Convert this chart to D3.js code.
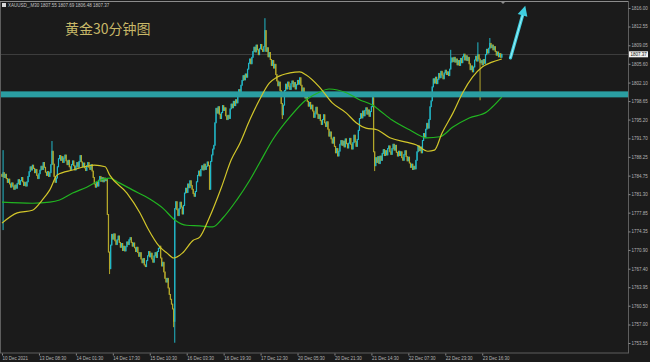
<!DOCTYPE html>
<html>
<head>
  <meta charset="utf-8">
  <title>XAUUSD M30</title>
  <script src="https://d3js.org/d3.v7.min.js"></script>
  <style>
    body { margin: 0; background: #1b1b1b; }
    svg { display: block; background: #1b1b1b; }
    .axis text { fill: #b4b4b4; font: 4.5px "Liberation Sans", sans-serif; }
    .axis line { stroke: #8a8a8a; }
    .title { fill: #c8b868; font: 14px "Noto Sans CJK SC", sans-serif; }
    .hdr { fill: #c4c4c4; font: 4.5px "Liberation Sans", sans-serif; }
  </style>
</head>
<body>
<script>
var width = 650, height = 362;

// 30-minute closes, one per bar
var closes = [
  1784.6,1785.3,1784.4,1785.0,1784.2,1783.5,1784.1,1783.2,1782.6,1783.4,
  1782.8,1782.2,1783.0,1782.4,1783.3,1784.0,1783.1,1783.8,1784.4,1783.6,
  1782.9,1783.5,1782.8,1783.6,1784.6,1785.5,1786.4,1785.8,1786.7,1786.1,
  1785.3,1785.9,1784.8,1784.2,1785.1,1785.8,1786.5,1785.9,1787.2,1786.3,
  1785.4,1784.8,1785.5,1784.6,1785.3,1786.8,1789.3,1786.9,1784.6,1783.5,
  1784.3,1786.4,1787.9,1788.5,1787.6,1788.3,1787.2,1788.0,1788.6,1787.5,
  1786.8,1787.6,1786.4,1785.9,1786.8,1787.5,1786.6,1785.8,1786.5,1787.2,
  1786.3,1787.4,1788.5,1787.3,1786.4,1787.1,1786.2,1785.7,1786.6,1787.2,
  1786.3,1785.9,1786.8,1785.6,1784.4,1783.2,1782.6,1783.5,1782.8,1783.9,
  1784.6,1783.7,1784.4,1783.6,1784.3,1783.8,1784.0,1777.5,1770.5,1767.4,
  1771.8,1773.8,1772.9,1773.9,1772.6,1771.9,1772.8,1773.5,1772.3,1771.4,
  1772.1,1770.8,1771.6,1770.7,1771.5,1772.4,1771.9,1772.8,1773.2,1772.3,
  1771.6,1772.2,1771.3,1770.6,1771.4,1770.4,1769.7,1770.4,1769.2,1768.5,
  1769.3,1768.1,1767.8,1768.9,1769.8,1770.6,1769.6,1770.3,1769.2,1768.6,
  1769.8,1770.4,1769.5,1770.6,1771.2,1771.6,1769.4,1767.9,1768.6,1766.8,
  1765.6,1764.9,1765.6,1763.8,1762.6,1761.7,1760.8,1759.9,1757.6,1778.6,
  1779.9,1778.4,1777.3,1778.6,1779.8,1778.9,1777.6,1779.2,1781.5,1782.4,
  1781.6,1783.2,1782.5,1783.8,1782.9,1782.2,1781.4,1780.9,1781.8,1783.6,
  1784.8,1785.6,1784.7,1785.9,1786.6,1785.8,1786.9,1785.9,1786.5,1787.3,
  1786.6,1782.2,1787.4,1788.6,1789.7,1790.4,1794.6,1797.3,1796.4,1797.6,
  1796.2,1795.4,1796.5,1797.8,1796.9,1797.4,1795.9,1795.2,1796.0,1795.4,
  1797.2,1798.1,1797.4,1798.6,1797.8,1798.9,1798.3,1799.6,1800.8,1800.1,
  1801.6,1802.5,1803.4,1802.6,1803.7,1803.1,1804.6,1805.7,1806.5,1805.6,
  1806.8,1807.9,1808.7,1807.8,1809.1,1808.2,1807.3,1808.4,1809.2,1808.3,
  1807.9,1808.8,1811.8,1807.9,1808.6,1806.9,1807.7,1806.4,1805.3,1806.2,
  1804.8,1805.5,1803.6,1802.4,1801.5,1802.2,1800.6,1798.2,1796.1,1797.9,
  1800.6,1801.8,1800.9,1802.2,1801.4,1800.8,1801.9,1802.4,1801.3,1802.1,
  1800.9,1801.7,1802.5,1801.8,1803.0,1801.6,1800.4,1801.1,1799.9,1799.2,
  1799.8,1798.6,1797.7,1798.4,1797.2,1797.9,1796.8,1795.6,1796.4,1797.5,
  1796.2,1795.4,1796.1,1795.0,1794.3,1795.2,1796.1,1794.6,1793.9,1794.8,
  1793.4,1792.1,1792.9,1791.6,1790.8,1791.9,1790.2,1789.0,1789.8,1788.4,
  1789.3,1790.6,1791.3,1790.4,1791.2,1790.1,1791.6,1790.7,1789.9,1790.8,
  1791.7,1790.6,1789.7,1790.9,1792.3,1791.1,1790.2,1791.5,1793.2,1795.4,
  1796.3,1795.5,1796.8,1795.9,1796.9,1797.4,1796.2,1797.0,1795.8,1796.7,
  1797.6,1799.3,1789.2,1786.6,1788.1,1787.2,1788.3,1787.0,1788.4,1787.6,
  1788.9,1789.6,1788.5,1789.4,1788.6,1789.8,1790.3,1789.2,1788.7,1789.8,
  1790.6,1789.5,1790.4,1789.1,1788.4,1789.3,1788.5,1789.2,1788.1,1787.6,
  1788.7,1789.4,1788.3,1787.5,1788.2,1787.1,1786.3,1786.9,1785.9,1786.5,
  1786.0,1787.6,1789.2,1790.3,1789.4,1790.1,1789.0,1791.3,1792.6,1791.8,
  1793.4,1794.5,1793.6,1795.2,1797.6,1798.7,1801.3,1802.8,1802.0,1803.1,
  1801.9,1802.7,1803.8,1803.0,1804.2,1803.5,1802.8,1803.9,1804.4,1803.6,
  1804.1,1803.4,1804.6,1805.9,1806.7,1806.0,1806.8,1805.9,1806.5,1805.4,
  1806.2,1805.3,1806.6,1805.8,1806.9,1807.4,1806.3,1807.1,1806.2,1806.8,
  1805.6,1804.5,1805.2,1804.1,1805.0,1806.3,1807.0,1806.1,1807.3,1806.5,
  1805.8,1806.2,1805.4,1806.4,1805.7,1807.3,1808.3,1807.6,1808.5,1809.4,
  1808.6,1809.1,1808.2,1808.8,1807.9,1807.2,1807.8,1806.9,1807.5,1806.8,
  1807.37
];
var firstOpen = 1785.0;

// long shadows that stick out of the bodies
var wickIdx  = [1, 46, 99, 158, 159, 242, 258, 341, 343, 413, 438, 440, 449];
var wickHigh = [1789.5, 1791.2, null, null, null, 1814.1, null, 1800.3, null, 1808.2, 1809.6, null, 1810.4];
var wickLow  = [1774.6, null, 1766.4, 1756.5, 1753.6, null, 1795.3, null, 1785.6, null, null, 1798.8, null];

// moving averages (yellow = fast, green = slow), sampled along the bars
var maFastIdx = [0,14,28,37,44,51,65,78,85,95,99,115,127,134,145,152,158,166,176,182,
  191,202,211,219,228,237,246,253,265,274,280,292,304,317,326,335,345,357,372,381,
  392,398,405,415,424,433,442,451,460];
var maFast = [1775.9,1777.8,1778.3,1780.2,1782.1,1784.9,1785.8,1786.5,1786.7,1786.4,
  1784.9,1781.5,1777.8,1775.0,1771.5,1770.3,1769.4,1770.3,1772.7,1773.3,
  1777.0,1782.6,1787.7,1790.8,1795.1,1798.9,1802.0,1803.1,1803.9,1804.1,
  1803.5,1801.3,1798.3,1796.4,1794.6,1793.6,1793.3,1791.8,1791.0,1790.5,
  1789.3,1789.5,1792.7,1796.4,1800.2,1803.1,1805.0,1805.9,1806.5];
var maSlowIdx = [0,28,44,53,65,78,90,99,108,120,136,148,159,170,182,194,203,216,228,237,
  249,265,280,292,301,317,329,341,347,359,375,391,403,415,430,446,451,460];
var maSlow = [1779.8,1779.6,1779.8,1780.2,1781.5,1782.6,1783.9,1784.3,1783.4,1782.1,
  1780.4,1778.7,1776.5,1775.5,1775.4,1775.2,1776.8,1780.2,1783.9,1787.1,
  1791.4,1795.7,1798.9,1800.3,1800.9,1800.2,1798.9,1797.9,1797.0,1795.1,
  1793.3,1791.8,1792.0,1793.8,1795.5,1796.6,1797.5,1799.4];

var resistance = 1799.9;
var lastPrice = 1807.37;
var arrowFrom = [468, 1806.7], arrowTo = [481.6, 1816.4];

var yTicks = [1816.00,1812.55,1809.05,1805.60,1802.10,1798.65,1795.20,1791.70,1788.25,
  1784.75,1781.30,1777.85,1774.35,1770.90,1767.40,1763.95,1760.50,1757.00,1753.55];
var xLabelIdx = [0,34,68,102,136,170,204,238,272,306,340,374,408,442];
var xLabels = ["10 Dec 2021","13 Dec 08:30","14 Dec 01:30","14 Dec 17:30","15 Dec 10:30",
  "16 Dec 03:30","16 Dec 19:30","17 Dec 12:30","20 Dec 05:30","20 Dec 21:30",
  "21 Dec 14:30","22 Dec 07:30","22 Dec 23:30","23 Dec 16:30"];

var plotR = 628, plotB = 353;

var x = d3.scaleLinear().domain([0, 460]).range([2, 2 + 460 * 1.0865]);
var y = d3.scaleLinear().domain([1753.55, 1816.0]).range([343, 8]);

var svg = d3.select("body").append("svg")
  .attr("width", width).attr("height", height);

// current price line
svg.append("line")
  .attr("x1", 1).attr("x2", plotR)
  .attr("y1", Math.round(y(lastPrice)) + 0.5).attr("y2", Math.round(y(lastPrice)) + 0.5)
  .attr("stroke", "#3d3d3d").attr("stroke-width", 1);

// candles
var bars = closes.map(function(c, i) {
  var o = i ? closes[i - 1] : firstOpen;
  return { i: i, o: o, c: c, h: Math.max(o, c), l: Math.min(o, c) };
});
wickIdx.forEach(function(k, j) {
  if (wickHigh[j] != null) bars[k].h = wickHigh[j];
  if (wickLow[j] != null) bars[k].l = wickLow[j];
});
var upCol = "#22b8c8", dnCol = "#b4a72a";

svg.append("g").selectAll("line")
  .data(bars).enter().append("line")
  .attr("x1", function(d) { return x(d.i); })
  .attr("x2", function(d) { return x(d.i); })
  .attr("y1", function(d) { return y(d.h); })
  .attr("y2", function(d) { return y(d.l); })
  .attr("stroke", function(d) { return d.c >= d.o ? upCol : dnCol; })
  .attr("stroke-width", 1);

svg.append("g").selectAll("rect")
  .data(bars).enter().append("rect")
  .attr("x", function(d) { return x(d.i) - 0.6; })
  .attr("width", 1.2)
  .attr("y", function(d) { return y(Math.max(d.o, d.c)) - 0.5; })
  .attr("height", function(d) { return Math.abs(y(d.o) - y(d.c)) + 1; })
  .attr("fill", function(d) { return d.c >= d.o ? upCol : dnCol; });

// resistance band
svg.append("rect")
  .attr("x", 0).attr("width", plotR)
  .attr("y", y(resistance) - 3).attr("height", 6)
  .attr("fill", "#2a9ea2");

// moving averages
var line = d3.line()
  .x(function(d) { return x(d[0]); })
  .y(function(d) { return y(d[1]); })
  .curve(d3.curveMonotoneX);

svg.append("path")
  .attr("d", line(maSlowIdx.map(function(k, j) { return [k, maSlow[j]]; })))
  .attr("fill", "none").attr("stroke", "#21b521").attr("stroke-width", 1.2);

svg.append("path")
  .attr("d", line(maFastIdx.map(function(k, j) { return [k, maFast[j]]; })))
  .attr("fill", "none").attr("stroke", "#d2c62a").attr("stroke-width", 1.2);

// arrow
var ax0 = x(arrowFrom[0]), ay0 = y(arrowFrom[1]);
var ax1 = x(arrowTo[0]), ay1 = y(arrowTo[1]);
var len = Math.hypot(ax1 - ax0, ay1 - ay0);
var ux = (ax1 - ax0) / len, uy = (ay1 - ay0) / len;
var bx = ax1 - ux * 10, by = ay1 - uy * 10;
svg.append("line")
  .attr("x1", ax0).attr("y1", ay0).attr("x2", bx).attr("y2", by)
  .attr("stroke", "#3fcfe0").attr("stroke-width", 3.2).attr("stroke-linecap", "round");
svg.append("polygon")
  .attr("points", [[ax1, ay1], [bx - uy * 5, by + ux * 5], [bx + uy * 5, by - ux * 5]].join(" "))
  .attr("fill", "#3fcfe0");
svg.append("line")
  .attr("x1", ax0).attr("y1", ay0).attr("x2", bx).attr("y2", by)
  .attr("stroke", "#b8f6fb").attr("stroke-width", 0.8);

// frame
svg.append("rect")
  .attr("x", 0.5).attr("y", 1.5).attr("width", plotR).attr("height", plotB - 1.5)
  .attr("fill", "none").attr("stroke", "#5e5e5e");
svg.append("line")
  .attr("x1", 0).attr("x2", plotR).attr("y1", 1.5).attr("y2", 1.5)
  .attr("stroke", "#8c8c8c");
svg.append("polygon")
  .attr("points", "500,1 506,1 503,4").attr("fill", "#8c8c8c");

// axes
var yAxis = svg.append("g").attr("class", "axis")
  .attr("transform", "translate(" + (plotR + 0.5) + ",0)")
  .call(d3.axisRight(y).tickValues(yTicks).tickSize(2).tickPadding(1)
    .tickFormat(d3.format(".2f")));
yAxis.select(".domain").remove();

var xAxis = svg.append("g").attr("class", "axis")
  .attr("transform", "translate(0," + (plotB + 0.5) + ")")
  .call(d3.axisBottom(x).tickValues(xLabelIdx).tickSize(2).tickPadding(1.5)
    .tickFormat(function(d, k) { return xLabels[k]; }));
xAxis.select(".domain").remove();
xAxis.selectAll("text").attr("text-anchor", "start");

// last price tag
svg.append("rect")
  .attr("x", plotR + 1).attr("y", y(lastPrice) - 3).attr("width", 19).attr("height", 6)
  .attr("fill", "#f2f2f2");
svg.append("text")
  .attr("class", "axis")
  .attr("x", plotR + 2.5).attr("y", y(lastPrice) + 1.6)
  .style("font", "4.5px 'Liberation Sans', sans-serif").attr("fill", "#111")
  .text(lastPrice.toFixed(2));

// header
svg.append("rect").attr("x", 2).attr("y", 3).attr("width", 4).attr("height", 4)
  .attr("fill", "#d8d8d8");
svg.append("text").attr("class", "hdr").attr("x", 8).attr("y", 6.6)
  .text("XAUUSD_,M30  1807.55 1807.69 1806.48 1807.37");

svg.append("text").attr("class", "title").attr("x", 65).attr("y", 34)
  .text("黄金30分钟图");
</script>
</body>
</html>
